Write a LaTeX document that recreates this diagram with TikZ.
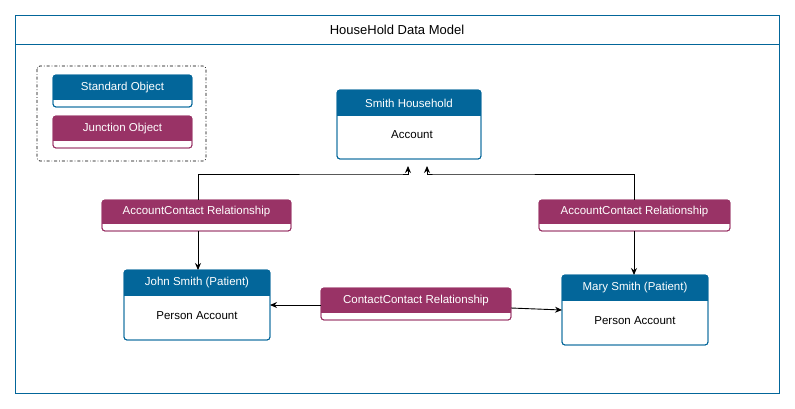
\documentclass[tikz,border=0pt]{standalone}
\usepackage{fontspec}
\setmainfont{Liberation Sans}
\usetikzlibrary{arrows.meta}
\definecolor{stdblue}{HTML}{03669A}
\definecolor{junc}{HTML}{993366}
\begin{document}
\begin{tikzpicture}[x=1pt,y=-1pt,font=\fontsize{11.5}{13}\selectfont,
  conn/.style={draw=black,line width=0.9pt,-{Stealth[length=7pt,width=6pt]}}]
\useasboundingbox (0,0) rectangle (795,408);
% frame
\draw[stdblue,line width=0.8pt] (15,15) rectangle (779,393);
\draw[stdblue,line width=0.8pt] (15,44) -- (779,44);
\node[font=\fontsize{13}{15}\selectfont] (title) at (397,30) {HouseHold Data Model};
% legend
\draw[line width=0.7pt,dash dot,rounded corners=3pt] (37,66) rectangle (206,161);
\newcommand{\objbox}[7]{% name, x1,y1,x2,y2,yh,color
  \draw[#7,fill=white,line width=0.9pt,rounded corners=3pt] (#2,#3) rectangle (#4,#5);
  \begin{scope}
    \clip[rounded corners=3pt] (#2,#3) rectangle (#4,#5);
    \fill[#7] (#2,#3) rectangle (#4,#6);
  \end{scope}
  \draw[#7,line width=0.9pt,rounded corners=3pt] (#2,#3) rectangle (#4,#5);
  \coordinate (#1-nw) at (#2,#3);
  \coordinate (#1-se) at (#4,#5);
  \coordinate (#1-h) at ({(#2+#4)/2},{(#3+#6)/2});
  \coordinate (#1-b) at ({(#2+#4)/2},{(#6+#5)/2});
}
\objbox{std}{53}{75}{192}{107}{100}{stdblue}
\node[text=white] (stdt) at (std-h) {Standard Object};
\objbox{jun}{53}{116}{192}{148}{141}{junc}
\node[text=white] (junt) at (jun-h) {Junction Object};
\objbox{sh}{337}{90}{481}{159}{116}{stdblue}
\node[text=white] (sht) at (sh-h) {Smith Household};
\node (shb) at (412,135) {Account};
\objbox{lac}{102}{200}{291}{231}{224}{junc}
\node[text=white] (lact) at (lac-h) {AccountContact Relationship};
\objbox{rac}{539}{200}{730}{231}{224}{junc}
\node[text=white] (ract) at (rac-h) {AccountContact Relationship};
\objbox{js}{124}{270}{270}{340}{296}{stdblue}
\node[text=white] (jst) at (js-h) {John Smith (Patient)};
\node (jsb) at (197,316) {Person Account};
\objbox{ms}{562}{275}{708}{345}{301}{stdblue}
\node[text=white] (mst) at (ms-h) {Mary Smith (Patient)};
\node (msb) at (635,321) {Person Account};
\objbox{cc}{321}{288}{511}{320}{313}{junc}
\node[text=white] (cct) at (cc-h) {ContactContact Relationship};
% connectors
\coordinate (lactop) at (198,200);
\coordinate (ractop) at (634,200);
\coordinate (shl) at (408,166);
\coordinate (shr) at (427,166);
\draw[conn] (lactop) |- (398,174) -| (shl);
\draw[conn] (ractop) |- (437,174) -| (shr);
\coordinate (lacbot) at (198,231);
\coordinate (jstop) at (198,270);
\draw[conn] (lacbot) -- (jstop);
\coordinate (racbot) at (634,231);
\coordinate (mstop) at (634,275);
\draw[conn] (racbot) -- (mstop);
\coordinate (ccl) at (321,305);
\coordinate (jsr) at (270,305);
\draw[conn] (ccl) -- (jsr);
\coordinate (ccr) at (511,308);
\coordinate (msl) at (562,310);
\draw[conn] (ccr) -- (msl);
\end{tikzpicture}
\end{document}
